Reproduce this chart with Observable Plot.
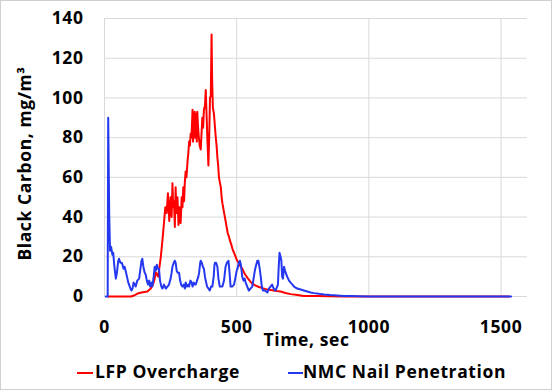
<!DOCTYPE html>
<html>
<head>
<meta charset="utf-8">
<script src="https://cdn.jsdelivr.net/npm/d3@7"></script>
<script src="https://cdn.jsdelivr.net/npm/@observablehq/plot@0.6"></script>
<style>
  html, body { margin: 0; padding: 0; background: #fff; }
  #wrap { position: relative; width: 555px; height: 391px; overflow: hidden; background: #fff; }
  #border { position: absolute; left: 0; top: 0; width: 552px; height: 390px; box-sizing: border-box; border: 1.5px solid #cfcfcf; pointer-events: none; }
  #chart { position: absolute; left: 0; top: 0; }
  #chart svg text { letter-spacing: 0.6px; }
  .leg { position: absolute; font-family: "Open Sans", sans-serif; font-weight: 700; font-size: 17.5px; letter-spacing: 0.6px; color: #000; white-space: nowrap; line-height: 1; }
  .sw { position: absolute; height: 2px; }
</style>
</head>
<body>
<div id="wrap">
  <div id="chart"></div>
  <div class="sw" style="left:77px;top:372px;width:16px;background:#ff0000"></div>
  <div class="leg" id="leg1" style="left:95px;top:363px">LFP Overcharge</div>
  <div class="sw" style="left:288px;top:372px;width:15px;background:#2438f0"></div>
  <div class="leg" id="leg2" style="left:303px;top:363px">NMC Nail Penetration</div>
  <div id="border"></div>
</div>
<script>
// ---- data ----
const seriesNames = ["LFP Overcharge", "NMC Nail Penetration"];
const xTicks = [0, 500, 1000, 1500];
const yTicks = [0, 20, 40, 60, 80, 100, 120, 140];
const xLabel = "Time, sec";
const yLabel = "Black Carbon, mg/m³";

const lfpTime = [12,50,100,112,125,140,162,175,183,188,194,199,203,208,213,219,225,230,235,240,245,250,254,257,260,263,266,269,272,276,280,284,288,292,295,298,301,304,307,310,314,317,320,323,326,329,333,335,338,341,343,346,349,351,354,357,360,364,367,370,373,376,380,383,386,389,393,396,399,402,405,407,410,414,418,421,424,427,430,433,437,440,443,446,450,454,458,462,466,471,475,480,484,490,496,502,509,515,521,528,534,540,546,552,559,570,584,597,610,622,635,650,666,685,704,730,754,780,805,850,900,1000,1530];
const lfpBC   = [0,0,0,0.5,1.5,2,2.5,4,6,8,12,11,10,15,20,28,37,45,42,52,38,50,40,57,45,48,35,55,42,50,36,45,37,50,45,55,48,58,63,60,68,72,78,76,82,80,94,78,90,93,80,92,78,93,85,80,76,74,82,90,85,94,96,104,92,80,66,80,100,101,132,110,95,92,85,80,76,70,66,60,57,55,50,47,44,41,38,35,32,30,28,26,24,22,20,18,16.6,15,14,12,10.7,9.5,8.5,7.5,6.5,5.6,4.8,4.2,3.7,3.4,3.2,2.8,2.5,1.8,1.2,0.7,0.3,0.2,0.2,0.1,0,0,0];

const nmcTime = [5,12,14,18,21,25,30,33,36,40,43,47,52,55,60,65,68,72,76,80,85,90,93,98,102,106,110,115,118,124,131,136,140,143,147,152,156,160,165,169,173,177,181,186,190,194,198,202,206,210,215,219,225,232,238,244,250,254,257,262,266,269,273,277,282,286,290,295,300,304,307,312,317,320,325,330,333,338,342,345,350,355,358,362,364,368,372,376,380,383,388,393,398,403,408,413,416,418,422,427,431,436,441,446,452,458,463,469,473,477,483,490,496,500,503,508,512,516,521,526,530,534,540,546,552,559,565,570,574,578,582,587,591,595,599,607,616,622,628,634,640,647,653,656,659,662,666,669,672,675,679,685,691,698,704,711,717,723,729,742,754,767,780,793,805,818,830,855,880,905,931,960,1000,1200,1400,1538];
const nmcBC   = [0,0,90,40,23,25,21,22,17,12,9,12,18,19,17,17,16,14,15,13,10,7,6,4,3,4,7,6,5,8,9,14,18,19,15,12,11,8,6,8,5,7,5,10,15,13,16,14,14,8,5,4,6,4,5,6,9,12,15,17,18,17,13,12,12,8,6,5,6,4,7,5,6,5,8,7,5,7,6,6,8,10,12,17,18,17,15,14,10,8,5,4,3,5,5,10,16,17,17,15,9,5,5,5,8,15,17,18,12,5,5,6,10,13,14,17,18,16,10,8,9,7,5,3,4,5,10,14,16,18,18,14,10,5,3,3,2,4,5,6,4,3,5,6,15,22,20,18,10,9,15,12,10,8,7,6,5,4.5,4,3.5,3,2.5,2,1.7,1.5,1.2,1,0.7,0.5,0.3,0.2,0.1,0,0,0,0];

const lfp = lfpTime.map((t, i) => ({t, v: lfpBC[i]}));
const nmc = nmcTime.map((t, i) => ({t, v: nmcBC[i]}));

const font = {fontFamily: "Open Sans", fontWeight: 700, fontSize: 17.5, fill: "#000"};

const chart = Plot.plot({
  width: 555,
  height: 360,
  marginTop: 18,
  marginBottom: 64,
  marginLeft: 104,
  marginRight: 28,
  style: {fontFamily: "Open Sans", fontSize: "17.5px", fontWeight: 700, color: "#000", background: "transparent"},
  x: {domain: [0, 1600]},
  y: {domain: [0, 140]},
  marks: [
    Plot.gridX(xTicks, {stroke: "#d9d9d9", strokeOpacity: 1, strokeWidth: 1}),
    Plot.gridY(yTicks, {stroke: "#d9d9d9", strokeOpacity: 1, strokeWidth: 1}),
    Plot.line(lfp, {x: "t", y: "v", stroke: "#ff0000", strokeWidth: 2}),
    Plot.line(nmc, {x: "t", y: "v", stroke: "#2438f0", strokeWidth: 2}),
    Plot.axisX(xTicks, {tickSize: 0, tickPadding: 24, tickFormat: d => String(d), label: null, ...font}),
    Plot.axisY(yTicks, {tickSize: 0, tickPadding: 21, tickFormat: d => String(d), label: null, ...font}),
    Plot.text([xLabel], {frameAnchor: "bottom", dy: 49, dx: -9.5, ...font}),
    Plot.text([yLabel], {frameAnchor: "left", textAnchor: "middle", rotate: -90, dx: -79, dy: 6, ...font})
  ]
});
document.getElementById("chart").appendChild(chart);
</script>
</body>
</html>
